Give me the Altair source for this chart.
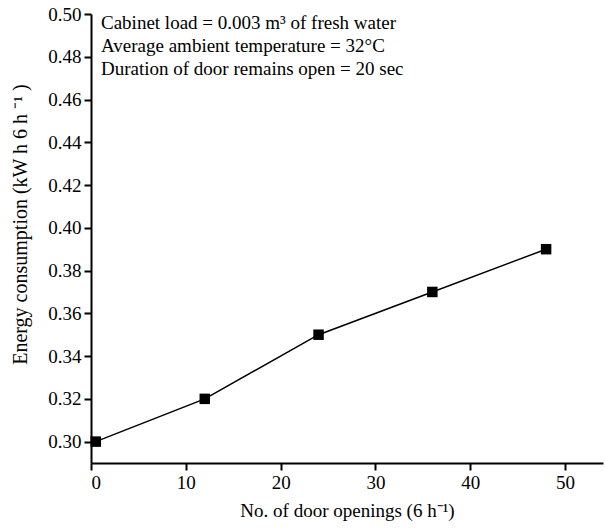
import altair as alt
import pandas as pd

door_openings = [0.5, 12, 24, 36, 48]
energy = [0.300, 0.320, 0.350, 0.370, 0.390]
notes = [
    "Cabinet load = 0.003 m³ of fresh water",
    "Average ambient temperature = 32°C",
    "Duration of door remains open = 20 sec",
]

df = pd.DataFrame({"x": door_openings, "y": energy})
FONT = "Liberation Serif"

base = alt.Chart(df)
x = alt.X("x:Q", scale=alt.Scale(domain=[0, 54], nice=False),
          axis=alt.Axis(values=[0, 10, 20, 30, 40, 50], title="No. of door openings (6 h⁻¹)", format="d"))
y = alt.Y("y:Q", scale=alt.Scale(domain=[0.29, 0.50], nice=False, zero=False),
          axis=alt.Axis(values=[0.30, 0.32, 0.34, 0.36, 0.38, 0.40, 0.42, 0.44, 0.46, 0.48, 0.50],
                        format=".2f", title="Energy consumption (kW h 6 h ⁻¹ )",
                        titleY=210))

line = base.mark_line(color="black", strokeWidth=1.5).encode(x=x, y=y)
pts = base.mark_square(color="black", size=110, opacity=1).encode(x=x, y=y)
data_layer = alt.layer(line, pts)

ndf = pd.DataFrame({"t": notes, "i": [0, 1, 2]})
text = alt.Chart(ndf).mark_text(align="left", baseline="alphabetic", font=FONT, fontSize=19,
                                color="black").encode(
    text="t:N",
    x=alt.value(10),
    y=alt.Y("i:O", axis=None, scale=alt.Scale(type="point", range=[15, 61], padding=0)),
)

chart = alt.layer(data_layer, text).resolve_scale(y="independent").properties(
    width=512, height=449,
    autosize=alt.AutoSizeParams(type="none"),
    padding={"left": 91, "top": 14, "right": 2, "bottom": 66},
).configure_view(stroke=None).configure_axis(
    grid=False, domainColor="black", domainWidth=2, tickColor="black", tickWidth=2,
    tickSize=7, labelFont=FONT, labelFontSize=19, labelColor="black",
    titleFont=FONT, titleFontSize=19, titleFontWeight="normal", titleColor="black",
    labelPadding=3,
).configure_axisX(titlePadding=9, labelPadding=3).configure_axisY(titlePadding=17, titleFontSize=20)

chart.save("out.html", embed_options={"renderer": "svg", "actions": False})
